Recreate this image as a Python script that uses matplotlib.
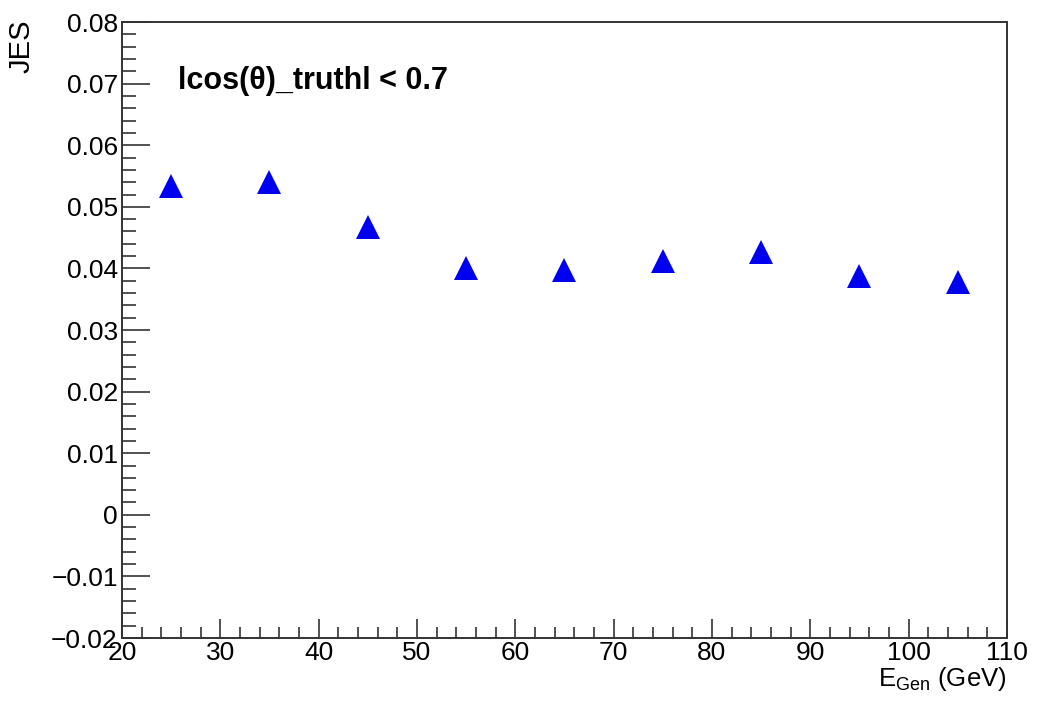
import matplotlib.pyplot as plt
from matplotlib.ticker import MultipleLocator

# jet energy scale vs generated energy, one point per 10 GeV bin
e_gen = [25, 35, 45, 55, 65, 75, 85, 95, 105]
jes = [0.0534, 0.0541, 0.0467, 0.0401, 0.0397, 0.0412, 0.0427, 0.0388, 0.0378]

plt.rcParams['font.family'] = ['Liberation Sans', 'DejaVu Sans']

fig = plt.figure(figsize=(10.38, 7.06), dpi=100)
ax = fig.add_axes([0.1175, 0.0963, 0.8525, 0.8725])

ax.plot(e_gen, jes, linestyle='none', marker='^', markersize=17.5,
        color='#0000f0', markeredgewidth=0)

ax.set_xlim(20, 110)
ax.set_ylim(-0.02, 0.08)
ax.xaxis.set_major_locator(MultipleLocator(10))
ax.xaxis.set_minor_locator(MultipleLocator(2))
ax.yaxis.set_major_locator(MultipleLocator(0.01))
ax.yaxis.set_minor_locator(MultipleLocator(0.002))

ax.tick_params(which='both', direction='in', top=False, right=False,
               color='#333333', labelsize=19)
ax.tick_params(axis='y', which='major', length=20, width=1.2, pad=3)
ax.tick_params(axis='y', which='minor', length=10, width=1.2)
ax.tick_params(axis='x', which='major', length=14, width=1.2, pad=2)
ax.tick_params(axis='x', which='minor', length=8, width=1.2)

ax.yaxis.set_major_formatter(plt.FuncFormatter(
    lambda v, p: '0' if abs(v) < 1e-9 else f'{v:.2f}'.replace('-', '\u2212')))

for s in ax.spines.values():
    s.set_color('#333333')
    s.set_linewidth(1.4)

ax.text(0.063, 0.905, 'lcos(\u03b8)_truthl < 0.7', transform=ax.transAxes,
        fontsize=22, fontweight='bold', va='center', ha='left')

fig.text(0.021, 0.972, 'JES', rotation=90, ha='center', va='top', fontsize=21)
fig.text(0.970, 0.029, r'E$_{\mathregular{Gen}}$ (GeV)', ha='right', va='baseline',
         fontsize=18.5)

fig.savefig('out.png', dpi=100)
